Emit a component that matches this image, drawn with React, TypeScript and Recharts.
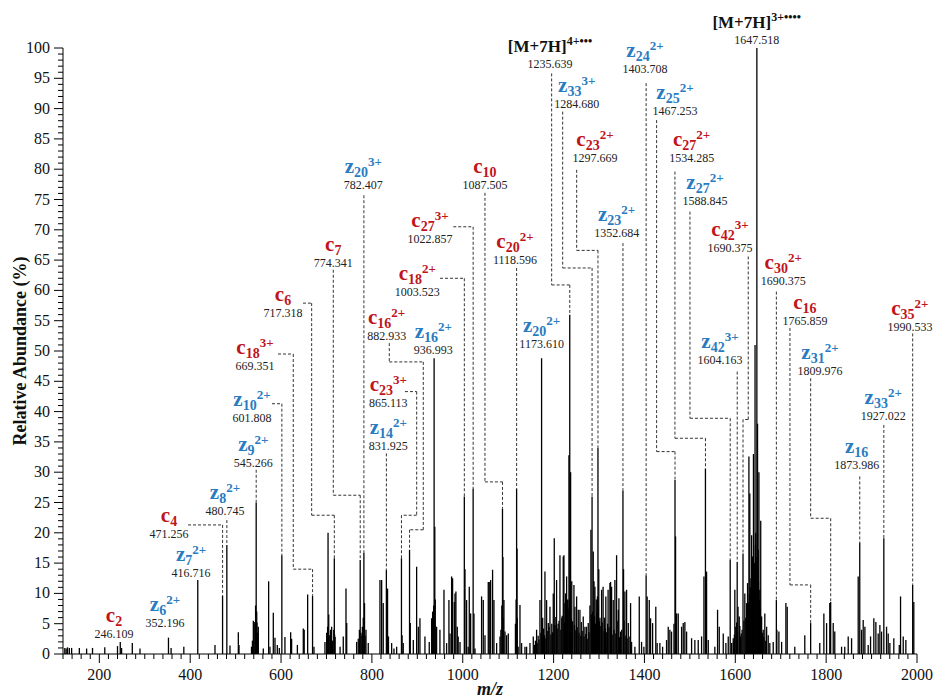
import React from 'react';
import { ComposedChart, Bar, XAxis, YAxis, ReferenceLine, ReferenceDot } from 'recharts';

// the page is exactly the chart: no body margin, no scrollbar
if (typeof document !== 'undefined') {
  document.body.style.margin = '0';
  document.body.style.overflow = 'hidden';
}

const FONT = '"Liberation Serif", "Times New Roman", serif';
const RED = '#c0141c';
const BLUE = '#2a7bbf';

// [m/z, relative abundance %]
const peaksLow: [number, number][] = [
  [124, 1.0], [127, 0.9], [130, 1.1], [134, 1.0], [139, 1.0], [156, 1.0], [172, 0.9], [185, 1.0],
  [212, 1.1], [240, 1.3], [246.1, 2.0], [249, 1.0], [272.6, 1.8], [289.5, 0.9], [352.2, 2.7], [358, 1.0],
  [386, 1.2], [416.7, 12.2], [454.6, 1.5], [471.3, 9.6], [480.7, 18.0], [487.6, 1.4], [506, 3.6], [507.5, 1.5],
  [539, 5.5], [541, 5.3], [543, 5.0], [545.3, 25.0], [547, 5.2], [550, 4.5], [561, 0.9], [572.7, 12.0],
  [575.6, 1.2], [583, 6.8], [586.7, 2.7], [591.8, 1.5], [596.2, 1.0], [601.8, 16.3], [608.6, 2.8], [621.2, 3.6],
  [623.3, 2.5], [636, 1.5], [649, 4.2], [651, 4.0], [658.6, 9.8], [669.4, 9.6], [672.5, 1.2], [696.7, 2.0],
  [700.5, 3.5], [703.5, 20.0], [706, 3.1], [709, 4.0], [711.4, 4.5], [717.3, 15.8], [719, 2.8],
];

const peaksMid: [number, number][] = [
  [730, 1.2], [737, 2.9], [743, 10.8], [744.6, 5.1], [766.4, 2.0], [774.3, 15.5], [778, 3.0], [782.4, 16.7],
  [783.8, 8.4], [787, 4.0], [792, 1.8], [817.8, 12.2], [821.5, 12.2], [825, 8.4], [831.9, 13.9], [834.5, 10.8],
  [836.5, 2.9], [843.5, 1.8], [848.6, 0.9], [854.5, 1.2], [865.1, 15.8], [866.5, 3.1], [869, 1.8], [882.9, 17.2],
  [884.5, 5.1], [891.2, 2.3], [898.5, 14.4], [902.2, 4.5], [905.8, 5.9], [916.8, 2.9], [926.3, 2.0], [931.5, 5.9],
  [933.7, 7.0], [937.0, 48.8], [938.5, 21], [942.5, 4.5], [949.8, 4.0], [958.7, 10.6], [964.5, 1.8], [969.6, 8.9],
  [972, 3.4], [975.5, 12.8], [977.7, 12.5], [981.4, 8.6], [983, 10.0], [985, 10.3], [988, 4.5], [990, 2.9],
  [994, 2.0], [1003.5, 26.0], [1005, 14], [1008.5, 8.9], [1012, 1.2], [1014.4, 11.1], [1017.4, 6.7], [1022.9, 27.3],
  [1024.7, 6.7], [1027, 0.9], [1041.5, 9.5], [1045.2, 8.9], [1049, 3.1], [1056.2, 11.9], [1058.4, 11.9], [1061.4, 12.2],
  [1065.7, 13.9], [1068.7, 8.9], [1074.6, 1.8], [1082, 2.9], [1087.5, 24], [1088.5, 16], [1090.7, 8.9], [1093, 3.7],
  [1096.6, 3.1], [1100.2, 3.4], [1118.6, 27.3], [1119.5, 17.4], [1122, 1.2], [1126, 8.1], [1129.6, 1.8], [1137, 1.2],
  [1140.6, 1.2], [1148, 1.8],
];

const peaksHigh: [number, number][] = [
  [1155.3, 2.9], [1162.6, 4.0], [1170, 8.9], [1173.6, 48.8], [1176, 6], [1181, 13.6], [1184.6, 8.9], [1188.3, 5.1],
  [1192, 7.8], [1199.3, 10.0], [1201.5, 19.1], [1206.6, 12.2], [1210, 5], [1214, 16.3], [1218, 6], [1221.3, 16.1],
  [1222.8, 16.3], [1225, 8.4], [1226.4, 10.0], [1228.7, 12.8], [1231, 9], [1233.8, 32.8], [1235.6, 56], [1237.5, 30],
  [1240, 12], [1244.8, 11.4], [1247, 7.8], [1250.7, 9.5], [1254.3, 7.3], [1258, 7.3], [1261, 5.3], [1265.3, 6.2],
  [1269, 4.5], [1272.6, 4.5], [1276.3, 5.1], [1280, 8], [1282.2, 20.5], [1284.7, 26], [1287.3, 16.9], [1289, 12],
  [1291, 11.1], [1294, 9], [1297.7, 34], [1299.5, 14], [1302, 6], [1305.7, 10.6], [1309, 11.1], [1312, 6],
  [1315, 9.5], [1320, 10.6], [1324, 11.7], [1325.5, 11.9], [1327.7, 11.1], [1331.3, 8.9], [1335, 12.2], [1338.7, 16.3],
  [1342.4, 7.3], [1343.8, 9.2], [1347.5, 3.7], [1352.7, 27], [1354, 14], [1357, 10.3], [1360.7, 10.6], [1364.4, 5.1],
  [1368, 2.9], [1369.5, 8.4], [1371.7, 2.0], [1379, 1.2], [1388.6, 9.5], [1393.7, 2.0], [1398.8, 1.2], [1403.7, 13],
  [1406, 9.5], [1410.6, 8.9], [1413.5, 5.9], [1418, 5.1], [1425, 7.8], [1428, 1.8], [1434, 1.8], [1440, 1.2],
  [1448.7, 2.3], [1452.4, 4.5], [1456, 4.0], [1459.7, 3.7], [1465, 5], [1467.3, 28.7], [1468.5, 19.4], [1470.8, 6.7],
  [1474.4, 6.7], [1481.8, 4.5], [1485.4, 5.1], [1489, 5.3], [1492.8, 3.7], [1503.8, 2.6], [1511, 2.3], [1518.4, 2.3],
  [1525.8, 2.9], [1531, 12.8], [1534.3, 30.6], [1536.8, 13.6], [1540.5, 2.3], [1555, 1.2], [1561, 7.3], [1564.7, 4.5],
  [1573.5, 3.4], [1579.3, 1.8], [1584.5, 2.9], [1588.8, 15.5], [1592, 1.8], [1595.5, 2.6], [1599, 10.6], [1604.2, 15.2],
  [1606, 7.8], [1608.7, 6.2], [1611.6, 2.9], [1615, 4.0], [1617, 16.6], [1621, 10.0], [1624.8, 8.4], [1627, 11.7],
  [1630, 32.6], [1632, 26.5], [1636, 19.6], [1638, 16.1], [1640, 33], [1641.5, 13.3], [1643.5, 51], [1645, 20],
  [1647.5, 100], [1649, 38], [1650.5, 17.2], [1652, 30], [1654, 10.6], [1656, 22], [1658, 6.2], [1661.5, 4.0],
  [1665, 6.7], [1669, 4.5], [1672.5, 3.1], [1676, 1.8], [1683.5, 2.0], [1690.4, 8.9], [1691.5, 4.0], [1696, 3.7],
  [1702, 2.0], [1711.4, 8.4], [1714.3, 7.8], [1731, 1.2], [1753, 3.1], [1765.9, 5.1], [1786, 1.8], [1795, 6.7],
  [1801, 5.1], [1808, 8.4], [1810, 8.6], [1815.6, 5.1], [1819, 3.7], [1834, 1.2], [1841, 1.2], [1848.6, 2.9],
  [1856, 2.6], [1870.6, 12.8], [1874, 18.4], [1878, 4.0], [1881.6, 5.6], [1885.3, 4.5], [1892.6, 1.5], [1897.8, 2.9],
  [1905, 5.9], [1909.5, 5.3], [1914.6, 3.4], [1918.3, 4.8], [1922, 3.7], [1927, 19.1], [1933, 4.5], [1936.6, 3.4],
  [1940.3, 1.8], [1949, 2.6], [1961, 1.5], [1963.8, 9.5], [1969.7, 2.9], [1975.5, 2.3], [1990.5, 11.4], [1993, 8.6],
];

// small peaks that make up the dense clusters near the baseline
const peaksCluster: [number, number][] = [
  [535, 1.2], [537, 2.2], [544, 8], [546.5, 7], [548, 3.5],
  [701, 2.5], [702.5, 4.5], [705, 6.5], [708, 3.0], [710, 3.5], [713, 2.2], [716, 4.0], [718, 3.2],
  [770, 2.5], [772.5, 4.0], [776, 3.5], [779, 4.5], [781, 6.0], [785, 3.0],
  [935, 5.5], [936, 8], [939.5, 9], [941, 4], [1084, 4], [1086, 8], [1089, 6], [1116, 5], [1117.5, 9], [1120, 6],
  [1158, 1.5], [1160, 2.2], [1164, 1.8], [1166, 3.0], [1168, 2.4], [1172, 3.5], [1175, 2.8], [1178, 4.2],
  [1180, 3.1], [1183, 2.6], [1186, 3.8], [1190, 4.5], [1194, 3.2], [1196, 5.0], [1198, 3.6], [1203, 4.8],
  [1205, 6.1], [1208, 4.2], [1212, 5.5], [1216, 4.0], [1219, 6.3], [1224, 5.2], [1227, 4.6], [1230, 6.8],
  [1232, 7.5], [1234.5, 9.0], [1236.5, 8.2], [1239, 6.0], [1242, 5.4], [1246, 4.8], [1249, 3.9], [1252, 4.4],
  [1256, 3.5], [1260, 3.0], [1263, 3.8], [1267, 2.9], [1271, 3.3], [1274, 2.5], [1278, 3.6], [1283, 6.5],
  [1286, 7.0], [1288, 5.6], [1290, 6.2], [1292.5, 5.0], [1295, 6.8], [1296.5, 9.5], [1298.5, 8.0], [1301, 5.4],
  [1304, 4.6], [1307, 5.2], [1311, 3.8], [1314, 4.2], [1317, 3.6], [1319, 5.0], [1322, 4.4], [1329, 3.2],
  [1333, 4.0], [1337, 3.4], [1340, 5.5], [1345, 2.8], [1350, 4.0], [1355, 5.5], [1359, 3.0], [1362, 2.6],
  [1596, 2.0], [1598, 3.2], [1601, 4.5], [1603, 5.2], [1605, 3.8], [1610, 4.6], [1613, 3.4], [1619, 5.5],
  [1623, 6.0], [1626, 7.2], [1629, 8.5], [1631, 9.8], [1633, 11], [1634.5, 12.5], [1637, 10], [1639, 14],
  [1642, 15], [1644.5, 18], [1646, 16], [1648.5, 14], [1651, 12], [1653, 9], [1655, 7.5], [1657, 5.0],
  [1660, 3.5], [1663, 2.8], [1667, 2.2],
];

const peaks = [...peaksLow, ...peaksMid, ...peaksHigh, ...peaksCluster].map(([mz, ab]) => ({ mz, ab }));

// annotated fragment ions: type, index, charge, printed m/z, m/z of the peak it points at
const ions = [
  { ion: 'c', n: '2', charge: '', text: '246.109', peak: 246.1 },
  { ion: 'z', n: '6', charge: '2+', text: '352.196', peak: 352.2 },
  { ion: 'z', n: '7', charge: '2+', text: '416.716', peak: 416.7 },
  { ion: 'c', n: '4', charge: '', text: '471.256', peak: 471.3 },
  { ion: 'z', n: '8', charge: '2+', text: '480.745', peak: 480.7 },
  { ion: 'z', n: '9', charge: '2+', text: '545.266', peak: 545.3 },
  { ion: 'z', n: '10', charge: '2+', text: '601.808', peak: 601.8 },
  { ion: 'c', n: '18', charge: '3+', text: '669.351', peak: 669.4 },
  { ion: 'c', n: '6', charge: '', text: '717.318', peak: 717.3 },
  { ion: 'c', n: '7', charge: '', text: '774.341', peak: 774.3 },
  { ion: 'z', n: '20', charge: '3+', text: '782.407', peak: 782.4 },
  { ion: 'c', n: '16', charge: '2+', text: '882.933', peak: 882.9 },
  { ion: 'z', n: '16', charge: '2+', text: '936.993', peak: 937.0 },
  { ion: 'c', n: '23', charge: '3+', text: '865.113', peak: 865.1 },
  { ion: 'z', n: '14', charge: '2+', text: '831.925', peak: 831.9 },
  { ion: 'c', n: '27', charge: '3+', text: '1022.857', peak: 1022.9 },
  { ion: 'c', n: '18', charge: '2+', text: '1003.523', peak: 1003.5 },
  { ion: 'c', n: '10', charge: '', text: '1087.505', peak: 1087.5 },
  { ion: 'c', n: '20', charge: '2+', text: '1118.596', peak: 1118.6 },
  { ion: 'z', n: '20', charge: '2+', text: '1173.610', peak: 1173.6 },
  { ion: 'M', n: '7H', charge: '4+•••', text: '1235.639', peak: 1235.6 },
  { ion: 'z', n: '33', charge: '3+', text: '1284.680', peak: 1284.7 },
  { ion: 'c', n: '23', charge: '2+', text: '1297.669', peak: 1297.7 },
  { ion: 'z', n: '23', charge: '2+', text: '1352.684', peak: 1352.7 },
  { ion: 'z', n: '24', charge: '2+', text: '1403.708', peak: 1403.7 },
  { ion: 'z', n: '25', charge: '2+', text: '1467.253', peak: 1467.3 },
  { ion: 'c', n: '27', charge: '2+', text: '1534.285', peak: 1534.3 },
  { ion: 'z', n: '27', charge: '2+', text: '1588.845', peak: 1588.8 },
  { ion: 'c', n: '42', charge: '3+', text: '1690.375', peak: 1617 },
  { ion: 'M', n: '7H', charge: '3+••••', text: '1647.518', peak: 1647.5 },
  { ion: 'c', n: '30', charge: '2+', text: '1690.375', peak: 1690.4 },
  { ion: 'z', n: '42', charge: '3+', text: '1604.163', peak: 1604.2 },
  { ion: 'c', n: '16', charge: '', text: '1765.859', peak: 1765.9 },
  { ion: 'z', n: '31', charge: '2+', text: '1809.976', peak: 1810 },
  { ion: 'z', n: '16', charge: '', text: '1873.986', peak: 1874 },
  { ion: 'z', n: '33', charge: '2+', text: '1927.022', peak: 1927 },
  { ion: 'c', n: '35', charge: '2+', text: '1990.533', peak: 1990.5 },
];

// where each label sits (centre of the m/z text, in m/z and %), and the bends of its dashed leader
const ionLayout: { at: [number, number]; path: [number, number][] }[] = [
  { at: [232.3, 3.3], path: [] },
  { at: [344.5, 5.1], path: [] },
  { at: [401.8, 13.4], path: [] },
  { at: [353.3, 19.8], path: [[395.2, 21.3], [471.3, 21.3]] },
  { at: [476.6, 23.6], path: [[480.7, 22.1]] },
  { at: [538.9, 31.5], path: [[545.3, 30.4]] },
  { at: [536.0, 38.9], path: [[580.1, 41.3], [601.8, 41.3]] },
  { at: [542.6, 47.5], path: [[593.3, 49.5], [626.9, 49.5], [626.9, 14.0], [669.4, 14.0]] },
  { at: [604.3, 56.3], path: [[648.3, 57.9], [667.4, 57.9], [667.4, 22.9], [717.3, 22.9]] },
  { at: [715.0, 64.6], path: [[715.0, 63.4], [715.0, 26.2], [774.3, 26.2]] },
  { at: [781.0, 77.4], path: [[782.4, 75.7]] },
  { at: [832.5, 52.4], path: [[838.3, 51.3], [838.3, 48.2], [913.1, 48.2], [913.1, 20.5], [882.9, 20.5]] },
  { at: [935.1, 50.2], path: [] },
  { at: [836.1, 41.4], path: [[872.8, 43.3], [898.6, 43.3], [898.6, 22.9], [865.1, 22.9]] },
  { at: [836.1, 34.4], path: [[831.9, 33.1]] },
  { at: [927.8, 68.5], path: [[979.1, 70.5], [1022.9, 70.5]] },
  { at: [899.9, 59.8], path: [[949.9, 62.0], [1003.5, 62.0]] },
  { at: [1048.9, 77.4], path: [[1048.9, 76.1], [1048.9, 28.4], [1087.5, 28.4]] },
  { at: [1114.9, 65.0], path: [[1118.6, 63.7]] },
  { at: [1173.7, 51.1], path: [] },
  { at: [1192.0, 97.3], path: [[1195.7, 95.8], [1195.7, 60.9], [1235.6, 60.9]] },
  { at: [1250.8, 90.8], path: [[1220.0, 89.5], [1220.0, 63.7], [1284.7, 63.7]] },
  { at: [1291.0, 81.8], path: [[1250.8, 79.9], [1250.8, 66.6], [1297.7, 66.6]] },
  { at: [1338.8, 69.5], path: [[1352.7, 67.8]] },
  { at: [1401.1, 96.5], path: [[1403.7, 94.2]] },
  { at: [1467.1, 89.6], path: [[1426.8, 88.1], [1426.8, 33.4], [1467.3, 33.4]] },
  { at: [1503.9, 81.8], path: [[1467.1, 79.6], [1467.1, 35.6], [1534.3, 35.6]] },
  { at: [1533.2, 74.8], path: [[1500.2, 73.0], [1500.2, 38.9], [1588.8, 38.9]] },
  { at: [1588.2, 67.0], path: [[1628.5, 65.6], [1628.5, 38.7], [1617, 38.7]] },
  { at: [1647.0, 101.4], path: [] },
  { at: [1705.5, 61.6], path: [[1690.4, 59.8]] },
  { at: [1566.2, 48.5], path: [[1604.2, 46.6]] },
  { at: [1753.3, 55.0], path: [[1720.3, 53.8], [1720.3, 11.4], [1765.9, 11.4]] },
  { at: [1786.3, 46.7], path: [[1765.9, 45.5], [1765.9, 22.4], [1810, 22.4]] },
  { at: [1867.1, 31.2], path: [[1874, 29.3]] },
  { at: [1925.6, 39.2], path: [[1927, 37.8]] },
  { at: [1984.4, 54.0], path: [[1990.5, 52.9]] },
];

const xTicks = Array.from({ length: 95 }, (_, i) => 120 + i * 20);
const yTicks = Array.from({ length: 101 }, (_, i) => i);

const peakHeight = (mz: number) =>
  peaks.reduce((best, p) => (Math.abs(p.mz - mz) < Math.abs(best.mz - mz) ? p : best), peaks[0]).ab;

function XTick({ x, y, payload }: any) {
  const v = payload.value;
  const major = v % 200 === 0;
  return (
    <g>
      <line x1={x} y1={y} x2={x} y2={y + (major ? 9 : 5)} stroke="#000" />
      {major && (
        <text x={x} y={y + 26} textAnchor="middle" fontFamily={FONT} fontSize={16} fill="#111">
          {v}
        </text>
      )}
    </g>
  );
}

function YTick({ x, y, payload }: any) {
  const v = payload.value;
  const major = v % 5 === 0;
  return (
    <g>
      <line x1={x - (major ? 9 : 5)} y1={y} x2={x} y2={y} stroke="#000" />
      {major && (
        <text x={x - 13} y={y + 5} textAnchor="end" fontFamily={FONT} fontSize={16} fill="#111">
          {v}
        </text>
      )}
    </g>
  );
}

// one spectrum peak: a thin black stick from the baseline
function Stick({ x, y, width, height }: any) {
  const cx = x + width / 2;
  return <line x1={cx} y1={y} x2={cx} y2={y + height} stroke="#000" strokeWidth={1.3} />;
}

function IonLabel({ cx, cy, ion }: any) {
  const base = cy + 4;
  const color = ion.ion === 'c' ? RED : BLUE;
  return (
    <g>
      {ion.ion === 'M' ? (
        <text x={cx} y={base - 16} textAnchor="middle" fontFamily={FONT} fontWeight="bold" fontSize={17} fill="#111">
          [M+{ion.n}]<tspan dy={-7} fontSize={12}>{ion.charge}</tspan>
        </text>
      ) : (
        <text x={cx} y={base - 16} textAnchor="middle" fontFamily={FONT} fontWeight="bold" fill={color}>
          <tspan fontSize={21}>{ion.ion}</tspan>
          <tspan fontSize={14} dy={4}>{ion.n}</tspan>
          {ion.charge && <tspan fontSize={13} dy={-11}>{ion.charge}</tspan>}
        </text>
      )}
      <text x={cx} y={base} textAnchor="middle" fontFamily={FONT} fontSize={12} fill="#222">
        {ion.text}
      </text>
    </g>
  );
}

export default function App() {
  const leaders = ions.flatMap((ion, i) => {
    const { path } = ionLayout[i];
    if (path.length === 0) return [];
    const pts: [number, number][] = [...path, [ion.peak, peakHeight(ion.peak)]];
    return pts.slice(1).map((p, k) => (
      <ReferenceLine
        key={`lead-${i}-${k}`}
        segment={[{ x: pts[k][0], y: pts[k][1] }, { x: p[0], y: p[1] }]}
        stroke="#333"
        strokeDasharray="3 2"
        ifOverflow="visible"
      />
    ));
  });

  return (
    <div style={{ width: 933, height: 700 }}>
      <ComposedChart width={933} height={700} data={peaks} margin={{ top: 48, right: 16, bottom: 0, left: 0 }}>
        <XAxis
          dataKey="mz"
          type="number"
          domain={[120, 2000]}
          allowDataOverflow
          ticks={xTicks}
          interval={0}
          tickLine={false}
          tickSize={0}
          tickMargin={0}
          tick={XTick}
          axisLine={{ stroke: '#000' }}
          height={46}
          label={({ viewBox }: any) => (
            <text
              x={viewBox.x + viewBox.width / 2}
              y={viewBox.y + 41}
              textAnchor="middle"
              fontFamily={FONT}
              fontStyle="italic"
              fontWeight="bold"
              fontSize={18}
              fill="#111"
            >
              m/z
            </text>
          )}
        />
        <YAxis
          type="number"
          domain={[0, 100]}
          allowDataOverflow
          ticks={yTicks}
          interval={0}
          tickLine={false}
          tickSize={0}
          tickMargin={0}
          tick={YTick}
          axisLine={{ stroke: '#000' }}
          width={63}
          label={({ viewBox }: any) => (
            <text
              x={26}
              y={viewBox.y + viewBox.height / 2}
              transform={`rotate(-90, 26, ${viewBox.y + viewBox.height / 2})`}
              textAnchor="middle"
              fontFamily={FONT}
              fontWeight="bold"
              fontSize={18}
              fill="#111"
            >
              Relative Abundance (%)
            </text>
          )}
        />
        <Bar dataKey="ab" fill="#000" barSize={1.4} shape={Stick} isAnimationActive={false} />
        {leaders}
        {ions.map((ion, i) => (
          <ReferenceDot
            key={`ion-${i}`}
            x={ionLayout[i].at[0]}
            y={ionLayout[i].at[1]}
            r={1}
            ifOverflow="visible"
            shape={(p: any) => <IonLabel cx={p.cx} cy={p.cy} ion={ion} />}
          />
        ))}
      </ComposedChart>
    </div>
  );
}
